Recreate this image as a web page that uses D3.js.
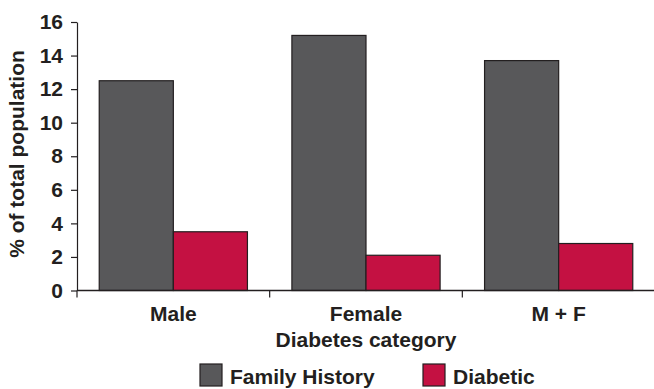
<!DOCTYPE html>
<html>
<head>
<meta charset="utf-8">
<script src="https://cdn.jsdelivr.net/npm/d3@7"></script>
<style>
  html, body { margin: 0; padding: 0; background: #ffffff; }
  svg { display: block; }
  text { font-family: "Liberation Sans", Arial, Helvetica, sans-serif; font-weight: bold; fill: #231f20; }
</style>
</head>
<body>
<div id="chart"></div>
<script>
// Share of total population by diabetes category
const categories = ["Male", "Female", "M + F"];
const seriesNames = ["Family History", "Diabetic"];
const familyHistory = [12.5, 15.2, 13.7];
const diabetic = [3.5, 2.1, 2.8];
const yTicks = [0, 2, 4, 6, 8, 10, 12, 14, 16];

const seriesValues = [familyHistory, diabetic];
const colors = ["#58585a", "#c41142"];
const ink = "#231f20";

const width = 654, height = 389;
const svg = d3.select("#chart").append("svg")
  .attr("width", width).attr("height", height);

const x0 = d3.scaleBand().domain(categories).range([77, 655]).paddingInner(0).paddingOuter(0);
const x1 = d3.scaleBand().domain(seriesNames).range([0, x0.bandwidth()]).paddingInner(0).paddingOuter(0.3);
const y = d3.scaleLinear().domain([0, 16]).range([290.5, 22]);

// Bars
const rows = categories.map((c, i) => ({ cat: c, vals: seriesNames.map((s, j) => ({ s, j, v: seriesValues[j][i] })) }));
const groups = svg.append("g").selectAll("g").data(rows).join("g")
  .attr("transform", d => `translate(${x0(d.cat)},0)`);
groups.selectAll("rect").data(d => d.vals).join("rect")
  .attr("x", d => x1(d.s))
  .attr("y", d => y(d.v))
  .attr("width", x1.bandwidth())
  .attr("height", d => y(0) - y(d.v))
  .attr("fill", d => colors[d.j])
  .attr("stroke", ink)
  .attr("stroke-width", 1.2);

// Y axis
const yAxis = svg.append("g").attr("transform", "translate(77,0)")
  .call(d3.axisLeft(y).tickValues(yTicks).tickFormat(d3.format("d")).tickSize(6).tickSizeOuter(0).tickPadding(8));
yAxis.select(".domain").attr("stroke", ink).attr("stroke-width", 1.2);
yAxis.selectAll(".tick line").attr("stroke", ink).attr("stroke-width", 1.2);
yAxis.selectAll(".tick text").attr("font-size", 21).attr("font-family", null).attr("fill", ink);

// X axis: baseline, category separators and labels
svg.append("line")
  .attr("x1", 77).attr("x2", 655).attr("y1", y(0)).attr("y2", y(0))
  .attr("stroke", ink).attr("stroke-width", 1.4);
const bounds = categories.map(c => x0(c)).concat([x0.range()[1]]);
svg.append("g").selectAll("line").data(bounds).join("line")
  .attr("x1", d => d).attr("x2", d => d)
  .attr("y1", y(0)).attr("y2", y(0) + 7)
  .attr("stroke", ink).attr("stroke-width", 1.2);
svg.append("g").selectAll("text").data(categories).join("text")
  .attr("x", d => x0(d) + x0.bandwidth() / 2)
  .attr("y", 321)
  .attr("text-anchor", "middle")
  .attr("font-size", 21)
  .text(d => d);

// Axis titles
svg.append("text")
  .attr("x", 366).attr("y", 347)
  .attr("text-anchor", "middle").attr("font-size", 21)
  .text("Diabetes category");
svg.append("text")
  .attr("transform", "translate(24,154) rotate(-90)")
  .attr("text-anchor", "middle").attr("font-size", 21)
  .text("% of total population");

// Legend
const legendX = [200, 423];
const legend = svg.append("g").selectAll("g").data(seriesNames).join("g")
  .attr("transform", (d, i) => `translate(${legendX[i]},364)`);
legend.append("rect")
  .attr("width", 22).attr("height", 22)
  .attr("fill", (d, i) => colors[i])
  .attr("stroke", ink).attr("stroke-width", 1.2);
legend.append("text")
  .attr("x", 30).attr("y", 20)
  .attr("font-size", 21)
  .text(d => d);
</script>
</body>
</html>
